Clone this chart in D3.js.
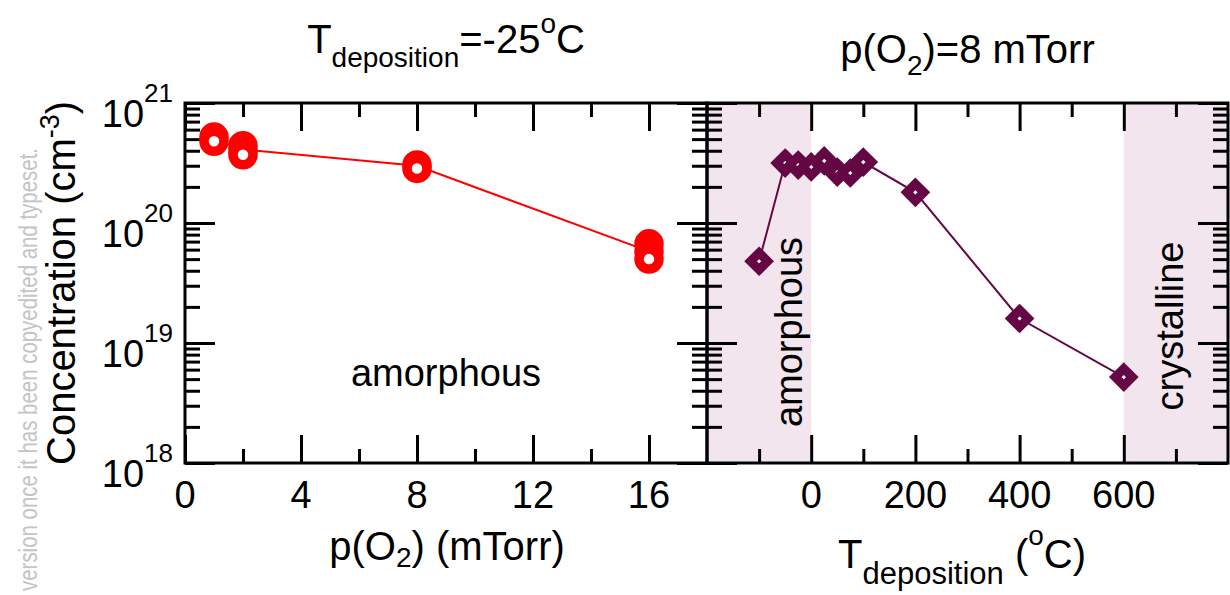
<!DOCTYPE html>
<html><head><meta charset="utf-8">
<script src="https://cdn.jsdelivr.net/npm/d3@7"></script>
<style>
html,body{margin:0;padding:0;background:#fff;}
text{font-family:"Liberation Sans",Arial,Helvetica,sans-serif;fill:#000;}
</style></head>
<body>
<svg id="chart" width="1230" height="595"></svg>
<script>
// ---- data ----
const leftPO2 = [1, 1, 2, 2, 2, 8, 8, 16, 16, 16];
const leftConc = [5.2e20, 4.8e20, 4.4e20, 4.0e20, 3.7e20, 3.05e20, 2.85e20, 6.7e19, 5.8e19, 5.0e19];
const leftLineX = [1, 2, 8, 16];
const leftLineY = [5.0e20, 4.1e20, 3.0e20, 5.8e19];

const rightT = [-100, -50, -25, 0, 25, 50, 75, 100, 200, 400, 600];
const rightConc = [4.8e19, 3.16e20, 3.04e20, 2.93e20, 3.29e20, 2.66e20, 2.61e20, 3.22e20, 1.8e20, 1.6e19, 5.2e18];

const leftXTicks = [0, 4, 8, 12, 16];
const leftXMinor = [2, 6, 10, 14];
const rightXTicks = [0, 200, 400, 600];
const rightXMajorAll = [0, 200, 400, 600];
const rightXMinor = [-100, 100, 300, 500, 700];
const yMajor = [1e18, 1e19, 1e20, 1e21];
const yExp = ["18", "19", "20", "21"];
const amorphousRange = [-200, 0];
const crystallineRange = [600, 800];

// ---- layout ----
const svg = d3.select("#chart");
const yTop = 103, yBot = 463;
const y = d3.scaleLog().domain([1e18, 1e21]).range([yBot, yTop]);
const xL = d3.scaleLinear().domain([0, 18]).range([185, 707]);
const xR = d3.scaleLinear().domain([-200, 800]).range([707, 1228]);
const red = "#ff0000", purple = "#650745", shade = "#f3e5ed";

const yMinor = [];
for (let e = 18; e < 21; e++) for (let m = 2; m <= 9; m++) yMinor.push(m * Math.pow(10, e));

// watermark
svg.append("text")
  .attr("transform", "translate(37,148) rotate(-90)")
  .attr("text-anchor", "end")
  .attr("textLength", 443).attr("lengthAdjust", "spacingAndGlyphs")
  .style("font-size", "26px").style("fill", "#c4c4c4")
  .text("version once it has been copyedited and typeset.");

// shading (right panel)
[amorphousRange, crystallineRange].forEach(r => {
  svg.append("rect").attr("x", xR(r[0])).attr("y", yTop)
    .attr("width", xR(r[1]) - xR(r[0])).attr("height", yBot - yTop)
    .attr("fill", shade);
});

function styleAxis(g) {
  g.select(".domain").remove();
  g.selectAll(".tick line").attr("stroke", "#000").attr("stroke-width", 3);
  g.selectAll(".tick text").remove();
}
function addAxis(axis, tx, ty) {
  svg.append("g").attr("transform", `translate(${tx},${ty})`).call(axis).call(styleAxis);
}
// x ticks left panel
addAxis(d3.axisBottom(xL).tickValues(leftXTicks).tickSize(-28), 0, yBot);
addAxis(d3.axisBottom(xL).tickValues(leftXMinor).tickSize(-14), 0, yBot);
addAxis(d3.axisTop(xL).tickValues(leftXTicks).tickSize(-28), 0, yTop);
addAxis(d3.axisTop(xL).tickValues(leftXMinor).tickSize(-14), 0, yTop);
// x ticks right panel
addAxis(d3.axisBottom(xR).tickValues(rightXMajorAll).tickSize(-28), 0, yBot);
addAxis(d3.axisBottom(xR).tickValues(rightXMinor).tickSize(-14), 0, yBot);
addAxis(d3.axisTop(xR).tickValues(rightXMajorAll).tickSize(-28), 0, yTop);
addAxis(d3.axisTop(xR).tickValues(rightXMinor).tickSize(-14), 0, yTop);
// y ticks
[[d3.axisLeft, 185], [d3.axisRight, 707], [d3.axisLeft, 707], [d3.axisRight, 1228]].forEach(([f, x]) => {
  addAxis(f(y).tickValues(yMajor).tickSize(-30), x, 0);
  addAxis(f(y).tickValues(yMinor).tickSize(-15), x, 0);
});

// frames
svg.append("rect").attr("x", xL(0)).attr("y", yTop).attr("width", xL(18) - xL(0)).attr("height", yBot - yTop)
  .attr("fill", "none").attr("stroke", "#000").attr("stroke-width", 3);
svg.append("rect").attr("x", xR(-200)).attr("y", yTop).attr("width", xR(800) - xR(-200)).attr("height", yBot - yTop)
  .attr("fill", "none").attr("stroke", "#000").attr("stroke-width", 3);

// left series
const lineL = d3.line().x(d => xL(d[0])).y(d => y(d[1]));
svg.append("path").datum(leftLineX.map((v, i) => [v, leftLineY[i]]))
  .attr("d", lineL).attr("fill", "none").attr("stroke", red).attr("stroke-width", 2);
svg.append("g").selectAll("circle").data(leftPO2.map((v, i) => [v, leftConc[i]])).join("circle")
  .attr("cx", d => xL(d[0])).attr("cy", d => y(d[1])).attr("r", 10)
  .attr("fill", "#fff").attr("stroke", red).attr("stroke-width", 9.5);

// right series
const lineR = d3.line().x(d => xR(d[0])).y(d => y(d[1]));
const rData = rightT.map((v, i) => [v, rightConc[i]]);
svg.append("path").datum(rData).attr("d", lineR).attr("fill", "none").attr("stroke", purple).attr("stroke-width", 2);
const h = 8.5;
svg.append("g").selectAll("path").data(rData).join("path")
  .attr("d", `M0,${-h}L${h},0L0,${h}L${-h},0Z`)
  .attr("transform", d => `translate(${xR(d[0])},${y(d[1])})`)
  .attr("fill", "#fff").attr("stroke", purple).attr("stroke-width", 9).attr("stroke-linejoin", "miter");

// x tick labels
svg.append("g").selectAll("text").data(leftXTicks).join("text")
  .attr("x", d => xL(d)).attr("y", 508).attr("text-anchor", "middle").style("font-size", "38px").text(d => d);
svg.append("g").selectAll("text").data(rightXTicks).join("text")
  .attr("x", d => xR(d)).attr("y", 508).attr("text-anchor", "middle").style("font-size", "38px").text(d => d);

// y tick labels
const yl = svg.append("g").selectAll("text").data(yMajor).join("text")
  .attr("x", 173).attr("y", d => y(d) + 24).attr("text-anchor", "end").style("font-size", "38px");
yl.append("tspan").text("10");
yl.append("tspan").attr("dy", -25).style("font-size", "26px").text((d, i) => yExp[i]);

// y title
const yt = svg.append("text").attr("transform", "translate(75,465) rotate(-90)").attr("text-anchor", "start").style("font-size", "40px");
yt.append("tspan").text("Concentration (cm");
yt.append("tspan").attr("dy", -16).style("font-size", "27px").text("-3");
yt.append("tspan").attr("dy", 16).text(")");

// left x title
const xtL = svg.append("text").attr("x", 447).attr("y", 560).attr("text-anchor", "middle").style("font-size", "40px");
xtL.append("tspan").text("p(O");
xtL.append("tspan").attr("dy", 7).style("font-size", "28px").text("2");
xtL.append("tspan").attr("dy", -7).text(") (mTorr)");

// right x title
const xtR = svg.append("text").attr("x", 1086).attr("y", 568).attr("text-anchor", "end").style("font-size", "40px");
xtR.append("tspan").text("T");
xtR.append("tspan").attr("dy", 16).style("font-size", "31px").text("deposition");
xtR.append("tspan").attr("dy", -16).text(" (");
xtR.append("tspan").attr("dy", -23).style("font-size", "28px").text("o");
xtR.append("tspan").attr("dy", 23).text("C)");

// left title
const tL = svg.append("text").attr("x", xL(9)).attr("y", 53).attr("text-anchor", "middle").style("font-size", "40px");
tL.append("tspan").text("T");
tL.append("tspan").attr("dy", 14).style("font-size", "28px").text("deposition");
tL.append("tspan").attr("dy", -14).text("=-25");
tL.append("tspan").attr("dy", -20).style("font-size", "28px").text("o");
tL.append("tspan").attr("dy", 20).text("C");

// right title
const tR = svg.append("text").attr("x", xR(300)).attr("y", 63).attr("text-anchor", "middle").style("font-size", "40px");
tR.append("tspan").text("p(O");
tR.append("tspan").attr("dy", 12).style("font-size", "28px").text("2");
tR.append("tspan").attr("dy", -12).text(")=8 mTorr");

// annotations
svg.append("text").attr("x", xL(9)).attr("y", 386).attr("text-anchor", "middle").style("font-size", "38px").text("amorphous");
svg.append("text").attr("transform", `translate(802,${y(1e19) - 11}) rotate(-90)`).attr("text-anchor", "middle")
  .style("font-size", "38px").text("amorphous");
svg.append("text").attr("transform", `translate(1183,${y(1e19) - 17}) rotate(-90)`).attr("text-anchor", "middle")
  .style("font-size", "38px").text("crystalline");
</script>
</body></html>
